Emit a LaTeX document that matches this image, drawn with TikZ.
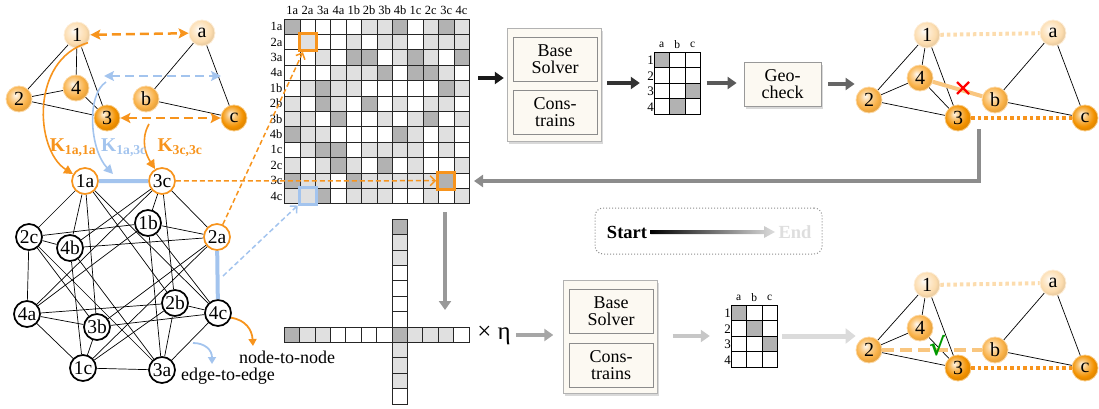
\documentclass[tikz,border=0pt]{standalone}
\usepackage{fontspec}
\setmainfont{Liberation Serif}
\newfontfamily\symfont{DejaVu Sans}
\usetikzlibrary{arrows.meta,shadows}

\definecolor{peach}{HTML}{FCDCAE}
\definecolor{amber}{HTML}{F9B045}
\definecolor{tangerine}{HTML}{F39200}
\definecolor{ornline}{HTML}{F7941D}
\definecolor{skyline}{HTML}{A3C4EE}
\definecolor{cream}{HTML}{FCF9F2}
\definecolor{softamber}{HTML}{F9C67F}
\colorlet{cell0}{white}
\colorlet{cell1}{black!12}
\colorlet{cell2}{black!30}

\colorlet{orbcol}{orange}
\pgfdeclareradialshading[orbcol]{orb}{\pgfqpoint{-7bp}{8bp}}{%
  color(0bp)=(orbcol!8!white); color(9bp)=(orbcol!55!white);
  color(21bp)=(orbcol); color(25bp)=(orbcol!94!black); color(50bp)=(orbcol!94!black)}

\begin{document}
\begin{tikzpicture}[x=1pt, y=-1pt, font=\fontsize{18}{20}\selectfont,
    ballnode/.style={circle, minimum size=26pt, inner sep=0pt, shade, shading=orb,
      line width=0.8pt, /utils/exec={\colorlet{orbcol}{#1}}, draw=#1!50!white,
      font=\fontsize{20}{20}\selectfont},
    assoc/.style={circle, draw, line width=1.7pt, fill=white, minimum size=26pt, inner sep=0pt,
      font=\fontsize{19.5}{20}\selectfont},
    pick/.style={assoc, draw=ornline},
    edge/.style={line width=0.7pt},
    cellbox/.style={draw=black!85, line width=0.8pt},
    pairarrow/.style={line width=2.5pt, dash pattern=on 9pt off 5pt,
      {Stealth[length=10pt,width=10pt,inset=2pt]}-{Stealth[length=10pt,width=10pt,inset=2pt]}},
    kcurve/.style={line width=1.6pt, -{Triangle[length=9pt,width=9pt]}},
    klabel/.style={font=\fontsize{19.5}{19}\selectfont\bfseries, inner sep=0pt},
    lookup/.style={line width=1.5pt, dash pattern=on 5pt off 3pt, -{Straight Barb[length=5pt,width=10pt]}},
    hilite/.style={draw=#1, line width=3pt, minimum size=17pt, inner sep=0pt},
    solverbox/.style={draw=black!30, fill=cream, minimum width=94pt, minimum height=113pt,
      drop shadow={shadow xshift=1.5pt, shadow yshift=-3pt, opacity=0.3}},
    stagebox/.style={draw=black!45, fill=cream, line width=0.8pt, align=center, inner sep=0pt,
      minimum width=84pt, minimum height=44pt, font=\fontsize{18}{17}\selectfont},
    flow/.style={draw=#1, line width=3.5pt, -{Triangle[length=9pt,width=12pt]}},
    pmcell/.style={draw=black, line width=0.8pt},
    matlab/.style={font=\fontsize{12.5}{12}\selectfont, inner sep=0pt},
    tiny/.style={font=\fontsize{11.5}{11}\selectfont, inner sep=0pt},
    tinyrow/.style={font=\fontsize{13}{13}\selectfont, inner sep=0pt, anchor=east},
    dotline/.style={draw=#1, line width=4pt, dash pattern=on 3.5pt off 3pt}
  ]
\useasboundingbox (0,0) rectangle (1099,409);

% query graph and target graph
\node[ballnode=peach] (n1) at (77,35) {1};
\node[ballnode=peach] (na) at (202,33) {a};
\node[ballnode=amber] (n4) at (76,88) {4};
\node[ballnode=amber] (n2) at (19,99) {2};
\node[ballnode=amber] (nb) at (146,99) {b};
\node[ballnode=tangerine] (n3) at (107,118) {3};
\node[ballnode=tangerine] (nc) at (234,118) {c};
\draw[edge] (n1) -- (n2) (n1) -- (n4) (n1) -- (n3) (n2) -- (n4) (n2) -- (n3) (n4) -- (n3);
\draw[edge] (na) -- (nb) (na) -- (nc) (nb) -- (nc);

\coordinate (e13) at (104,76);
\coordinate (eac) at (221,76);
\draw[pairarrow, ornline] (n1) -- (na);
\draw[pairarrow, skyline] (e13) -- (eac);
\draw[pairarrow, ornline] (n3) -- (nc);

% association graph
\node[pick] (g1a) at (85,181) {1a};
\node[pick] (g3c) at (162,181) {3c};
\node[assoc] (g2c) at (29,237) {2c};
\node[assoc] (g1b) at (148,223) {1b};
\node[pick] (g2a) at (217,237) {2a};
\node[assoc] (g4b) at (70,248) {4b};
\node[assoc] (g4a) at (27,314) {4a};
\node[assoc] (g2b) at (175,303) {2b};
\node[assoc] (g4c) at (218,313) {4c};
\node[assoc] (g3b) at (97,327) {3b};
\node[assoc] (g1c) at (83,368) {1c};
\node[assoc] (g3a) at (162,370) {3a};
\foreach \i in {1,...,4}
  \foreach \j in {1,...,4}
    \foreach \x [count=\p] in {a,b,c}
      \foreach \y [count=\q] in {a,b,c} {
        \ifnum\i<\j\relax \ifnum\p=\q\else \draw[edge] (g\i\x) -- (g\j\y); \fi\fi
      }
\draw[skyline, line width=4pt] (g1a) -- (g3c) (g2a) -- (g4c);

% affinity terms
\coordinate (kb0) at (106,82);
\coordinate (kb1) at (113,174);
\coordinate (k30) at (149,124);
\draw[kcurve, ornline] (n1.-35) .. controls (30,60) and (35,150) .. (g1a.150);
\draw[kcurve, skyline] (kb0) .. controls (86,95) and (90,150) .. (kb1);
\draw[kcurve, ornline] (k30) .. controls (140,140) and (146,155) .. (g3c.120);
\node[klabel, text=ornline] (k11) at (73,148) {K\textsubscript{1a,1a}};
\node[klabel, text=skyline] (k13) at (124,148) {K\textsubscript{1a,3c}};
\node[klabel, text=ornline] (k33) at (180,148) {K\textsubscript{3c,3c}};

% legend arrows
\coordinate (ntn) at (253,346);
\coordinate (ete0) at (193,343);
\coordinate (ete1) at (212,364);
\draw[ornline, line width=1.8pt, -{Triangle[length=7pt,width=8pt]}] (g4c.-20) .. controls (246,320) and (252,330) .. (ntn);
\draw[skyline, line width=1.8pt, -{Triangle[length=7pt,width=8pt]}] (ete0) .. controls (205,343) and (212,350) .. (ete1);
\node (ntnlab) at (287,357) {node-to-node};
\node (etelab) at (228,376) {edge-to-edge};

% affinity matrix
\foreach \row [count=\r] in {{2,0,0,0,0,1,1,2,0,1,2,1},{0,1,0,0,1,0,1,1,0,1,1,1},
    {0,0,1,0,2,2,0,1,2,1,0,2},{0,0,0,1,1,1,2,0,2,2,1,0},{0,1,2,1,1,0,0,0,0,0,2,1},
    {1,0,2,1,0,2,0,1,0,1,1,0},{1,1,0,2,0,0,1,0,1,2,0,1},{2,1,1,0,0,0,0,2,1,0,1,0},
    {0,1,2,2,0,1,1,1,1,0,1,0},{1,0,1,2,1,0,2,0,1,0,0,1},{2,1,1,0,2,1,1,1,1,1,2,0},
    {1,1,2,0,1,1,1,0,0,1,0,1}}
  \foreach \v [count=\c] in \row
    \draw[cellbox, fill=cell\v] ({284.5+(\c-1)*15.4},{19+(\r-1)*15.4}) rectangle ++(15.4,15.4);
\foreach \lab [count=\c] in {1a,2a,3a,4a,1b,2b,3b,4b,1c,2c,3c,4c} {
  \node[matlab] (col\c) at ({284.5+(\c-0.5)*15.4},10) {\lab};
  \node[matlab, anchor=east] (row\c) at (282.5,{19+(\c-0.5)*15.4}) {\lab};
}
\node[hilite=ornline] (hA) at (307.6,42.1) {};
\node[hilite=ornline] (hC) at (446.2,180.7) {};
\node[hilite=skyline] (hB) at (307.6,196.1) {};
\coordinate (e24) at (223,276);
\draw[lookup, ornline] (g2a) -- (hA);
\draw[lookup, ornline] (g3c) -- (hC);
\draw[lookup, skyline] (e24) -- (hB);

% first pass
\coordinate (matE) at (478,78);
\node[solverbox] (solverA) at (554,84.5) {};
\node[stagebox] (baseA) at (555,59.5) {Base\\Solver};
\node[stagebox] (consA) at (555,112) {Cons-\\trains};
\node[inner sep=0pt, minimum width=46.5pt, minimum height=62pt] (pmA) at (677.25,83) {};
\foreach \row [count=\r] in {{2,0,0},{0,0,0},{0,0,2},{0,2,0}}
  \foreach \v [count=\c] in \row
    \draw[pmcell, fill=cell\v] ({654+(\c-1)*15.5},{52+(\r-1)*15.5}) rectangle ++(15.5,15.5);
\foreach \lab [count=\c] in {a,b,c}
  \node[tiny] (pmAc\c) at ({654+(\c-0.5)*15.5},45) {\lab};
\foreach \c in {1,...,4}
  \node[tinyrow] (pmAr\c) at (654,{52.5+(\c-0.5)*15.5}) {\c};
\node[stagebox, minimum width=77pt, draw=black!40,
  drop shadow={shadow xshift=1.5pt, shadow yshift=-3pt, opacity=0.3}] (geo) at (782.5,84) {Geo-\\check};

\draw[flow=black!90, shorten >=3pt] (matE) -- (matE -| solverA.west);
\draw[flow=black!80, shorten <=6pt, shorten >=14pt] (solverA.east |- pmA) -- (pmA);
\draw[flow=black!65, shorten <=6pt, shorten >=7pt] (pmA.east) -- (pmA.east -| geo.west);

% checked result
\foreach \g/\dy in {r/0,s/250} {
  \node[ballnode=peach] (\g-1) at (927,35+\dy) {1};
  \node[ballnode=peach] (\g-a) at (1053,33+\dy) {a};
  \node[ballnode=amber] (\g-4) at (920,78+\dy) {4};
  \node[ballnode=amber] (\g-2) at (869,100+\dy) {2};
  \node[ballnode=amber] (\g-b) at (995,100+\dy) {b};
  \node[ballnode=tangerine] (\g-3) at (958,118+\dy) {3};
  \node[ballnode=tangerine] (\g-c) at (1085,118+\dy) {c};
  \draw[edge] (\g-1) -- (\g-2) (\g-1) -- (\g-4) (\g-1) -- (\g-3) (\g-2) -- (\g-4) (\g-2) -- (\g-3) (\g-4) -- (\g-3);
  \draw[edge] (\g-a) -- (\g-b) (\g-a) -- (\g-c) (\g-b) -- (\g-c);
  \draw[dotline=peach] (\g-1) -- (\g-a);
  \draw[dotline=ornline] (\g-3) -- (\g-c);
}
\draw[softamber, line width=4pt] (r-4) -- (r-b);
\draw[red, line width=2.3pt] (957,82) -- (969,94) (957,94) -- (969,82);
\draw[softamber, line width=4pt, dash pattern=on 12pt off 6pt] (s-2) -- (s-b);
\node[text=green!60!black, font=\fontsize{24}{24}\selectfont\symfont\bfseries, inner sep=0pt] (tick) at (937,346) {√};

\draw[flow=black!60, shorten <=7pt, shorten >=1pt] (geo.east) -- (geo.east -| r-2.west);

% feedback loop
\coordinate (back) at (979,129);
\coordinate (matR) at (474,181);
\draw[flow=black!45] (back) |- (matR);
\coordinate (matS) at (445,212);
\coordinate (vecT) at (445,310);
\draw[flow=black!40] (matS) -- (vecT);

% vectorised matrix
\foreach \v [count=\c] in {2,1,1,0,0,0,0,2,1,1,1,0} {
  \draw[cellbox, fill=cell\v] ({284.2+(\c-1)*15.4},327) rectangle ++(15.4,15.4);
  \draw[cellbox, fill=cell\v] (392,{219.2+(\c-1)*15.4}) rectangle ++(15.4,15.4);
}
\node[font=\fontsize{25}{25}\selectfont, inner sep=1pt] (eta) at (494,335) {× η};

% second pass
\node[solverbox] (solverB) at (610.5,336.5) {};
\node[stagebox] (baseB) at (611,311) {Base\\Solver};
\node[stagebox] (consB) at (611,365) {Cons-\\trains};
\node[inner sep=0pt, minimum width=46.5pt, minimum height=62pt] (pmB) at (754.25,336) {};
\foreach \row [count=\r] in {{2,0,0},{0,2,0},{0,0,2},{0,0,0}}
  \foreach \v [count=\c] in \row
    \draw[pmcell, fill=cell\v] ({731+(\c-1)*15.5},{305+(\r-1)*15.5}) rectangle ++(15.5,15.5);
\foreach \lab [count=\c] in {a,b,c}
  \node[tiny] (pmBc\c) at ({731+(\c-0.5)*15.5},298) {\lab};
\foreach \c in {1,...,4}
  \node[tinyrow] (pmBr\c) at (731,{305.5+(\c-0.5)*15.5}) {\c};
\draw[flow=black!35, shorten <=4pt, shorten >=10pt] (eta.east) -- (eta.east -| solverB.west);
\draw[flow=black!22, shorten <=15pt, shorten >=21pt] (solverB.east |- pmB) -- (pmB);
\draw[draw=black!14, line width=5pt, -{Triangle[length=10pt,width=15pt]}, shorten <=4.5pt]
  (pmB.east) -- (pmB.east -| s-2.west);

% colour key
\node[draw=black!45, dotted, line width=1pt, rounded corners=8pt,
  minimum width=227pt, minimum height=46pt] (key) at (708.5,231) {};
\node[font=\fontsize{18.5}{18}\selectfont\bfseries, text height=12pt, text depth=0pt] (start) at (627,232) {Start};
\node[font=\fontsize{18.5}{18}\selectfont\bfseries, text=black!13, text height=12pt, text depth=0pt] (fin) at (795,232) {End};
\shade[left color=black, right color=black!13]
  ([yshift=-2pt]start.east) -- ([xshift=-11pt,yshift=-2pt]fin.west) -- ([xshift=-11pt,yshift=-6pt]fin.west)
  -- (fin.west) -- ([xshift=-11pt,yshift=6pt]fin.west) -- ([xshift=-11pt,yshift=2pt]fin.west)
  -- ([yshift=2pt]start.east) -- cycle;
\end{tikzpicture}
\end{document}
